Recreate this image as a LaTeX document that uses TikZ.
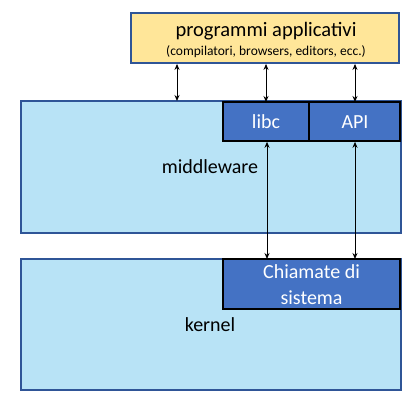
\documentclass[tikz,border=0pt]{standalone}
\usepackage{fontspec}
\setmainfont{Carlito}
\usetikzlibrary{arrows.meta}
\definecolor{ayellow}{HTML}{FFE699}
\definecolor{alight}{HTML}{B8E3F6}
\definecolor{adark}{HTML}{4472C4}
\definecolor{aborder}{HTML}{2F5597}
\begin{document}
\begin{tikzpicture}[x=1pt,y=-1pt,
  layer/.style={draw=aborder,line width=1.5pt,fill=alight},
  appbox/.style={draw=aborder,line width=1.8pt,fill=ayellow},
  sub/.style={draw=black,line width=1.6pt,fill=adark},
  wtext/.style={text=white,font=\fontsize{20}{24}\selectfont},
  btext/.style={text=black,font=\fontsize{20}{24}\selectfont},
  conn/.style={line width=1pt,{Stealth[length=6pt,width=5pt]}-{Stealth[length=6pt,width=5pt]}}]
\useasboundingbox (0,0) rectangle (411,407);
% layers
\draw[layer] (21,101) rectangle (401,233);
\draw[layer] (21,259) rectangle (401,390);
\draw[appbox] (131,13) rectangle (399,63);
\draw[sub] (223,102) rectangle (309,141);
\draw[sub] (309,102) rectangle (400,141);
\draw[sub] (223,259) rectangle (400,309);
% texts
\node[font=\fontsize{20.5}{24}\selectfont] (app) at (266,31) {programmi applicativi};
\node[font=\fontsize{13.5}{16}\selectfont] (appsub) at (266,52) {(compilatori, browsers, editors, ecc.)};
\node[btext] (mw) at (210,167) {middleware};
\node[btext] (kn) at (210,325) {kernel};
\node[wtext] (libc) at (266,122) {libc};
\node[wtext] (api) at (355,122) {API};
\node[wtext,align=center,font=\fontsize{20}{26}\selectfont] (sc) at (311.5,285) {Chiamate di\\sistema};
% anchor coordinates
\coordinate (a1) at (177,63.9);
\coordinate (b1) at (177,101);
\coordinate (a2) at (266,63.9);
\coordinate (b2) at (266,102);
\coordinate (a3) at (355,63.9);
\coordinate (b3) at (355,102);
\coordinate (c2) at (267,141.8);
\coordinate (d2) at (267,259);
\coordinate (c3) at (355,141.8);
\coordinate (d3) at (355,259);
\draw[conn] (a1) -- (b1);
\draw[conn] (a2) -- (b2);
\draw[conn] (a3) -- (b3);
\draw[conn] (c2) -- (d2);
\draw[conn] (c3) -- (d3);
\end{tikzpicture}
\end{document}
